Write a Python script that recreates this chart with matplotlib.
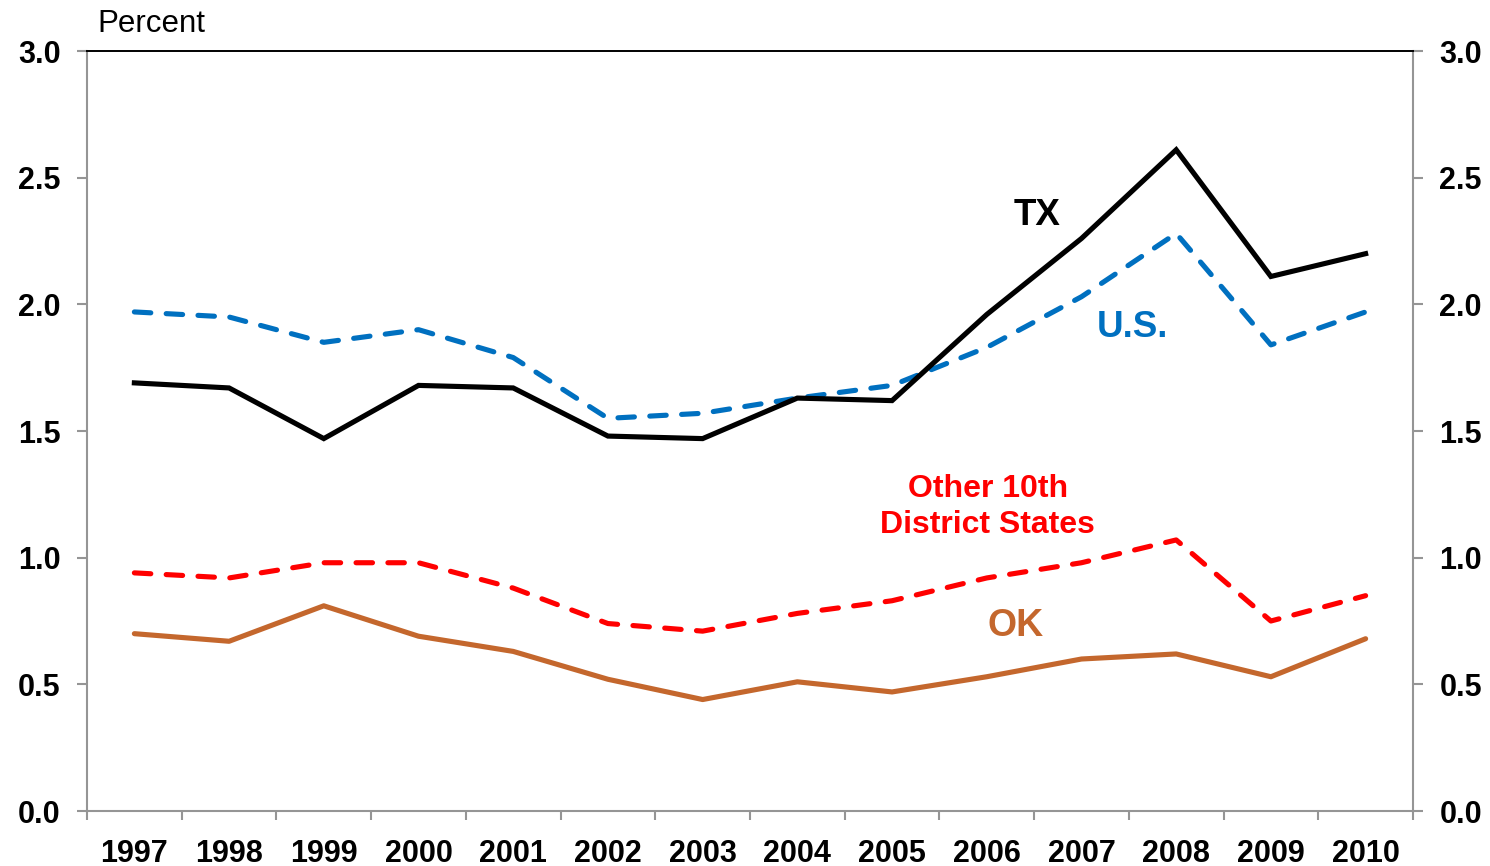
import numpy as np
import matplotlib
matplotlib.use("Agg")
import matplotlib.pyplot as plt

plt.rcParams["font.family"] = ["Liberation Sans", "DejaVu Sans"]

years = ["1997", "1998", "1999", "2000", "2001", "2002", "2003",
         "2004", "2005", "2006", "2007", "2008", "2009", "2010"]
tx = [1.69, 1.67, 1.47, 1.68, 1.67, 1.48, 1.47, 1.63, 1.62, 1.96, 2.26, 2.61, 2.11, 2.20]
us = [1.97, 1.95, 1.85, 1.90, 1.79, 1.55, 1.57, 1.63, 1.68, 1.83, 2.03, 2.28, 1.84, 1.97]
other10 = [0.94, 0.92, 0.98, 0.98, 0.88, 0.74, 0.71, 0.78, 0.83, 0.92, 0.98, 1.07, 0.75, 0.85]
ok = [0.70, 0.67, 0.81, 0.69, 0.63, 0.52, 0.44, 0.51, 0.47, 0.53, 0.60, 0.62, 0.53, 0.68]

BLUE = "#0070C0"
RED = "#FF0000"
BROWN = "#C4672D"
GREY = "#959595"

fig = plt.figure(figsize=(14.9, 8.66), dpi=100)
ax = fig.add_axes([0.0584, 0.0635, 0.8899, 0.8776])
x = np.arange(len(years))

lw = 3.7
ax.plot(x, ok, color=BROWN, lw=lw, solid_capstyle="round", solid_joinstyle="round")
ax.plot(x, other10, color=RED, lw=lw, dashes=(3.2, 3.0), dash_capstyle="round")
ax.plot(x, us, color=BLUE, lw=lw, dashes=(3.2, 3.0), dash_capstyle="round")
ax.plot(x, tx, color="black", lw=lw, solid_joinstyle="miter")

ax.set_xlim(-0.5, len(years) - 0.5)
ax.set_ylim(0, 3.0)
ax.set_yticks(np.arange(0, 3.01, 0.5))
ax.set_yticklabels([f"{v:.1f}" for v in np.arange(0, 3.01, 0.5)])
ax.set_xticks(x)
ax.set_xticklabels(years)
ax.set_xticks(np.arange(-0.5, len(years), 1.0), minor=True)

for side in ("left", "right", "bottom"):
    ax.spines[side].set_color(GREY)
    ax.spines[side].set_linewidth(1.5)
ax.spines["top"].set_color("black")
ax.spines["top"].set_linewidth(1.4)

ax.tick_params(axis="x", which="major", length=0, pad=20, labelsize=22)
ax.tick_params(axis="x", which="minor", length=6.5, width=1.5, color=GREY, direction="out")
ax.tick_params(axis="y", which="major", length=7, width=1.5, color=GREY, direction="out",
               labelsize=22, pad=12, left=True, right=True, labelleft=True, labelright=True)
for lab in ax.get_xticklabels() + ax.get_yticklabels():
    lab.set_fontweight("bold")

fig.text(97 / 1490, 1 - 24 / 866, "Percent", fontsize=22.5, va="center", ha="left")

ax.text(9.53, 2.35, "TX", color="black", fontsize=26.5, fontweight="bold",
        ha="center", va="center")
ax.text(10.54, 1.91, "U.S.", color=BLUE, fontsize=26.5, fontweight="bold",
        ha="center", va="center")
ax.text(9.01, 1.20, "Other 10th\nDistrict States", color=RED, fontsize=23,
        fontweight="bold", ha="center", va="center", linespacing=1.3)
ax.text(9.30, 0.73, "OK", color=BROWN, fontsize=27, fontweight="bold",
        ha="center", va="center")

fig.savefig("out.png", dpi=100)
